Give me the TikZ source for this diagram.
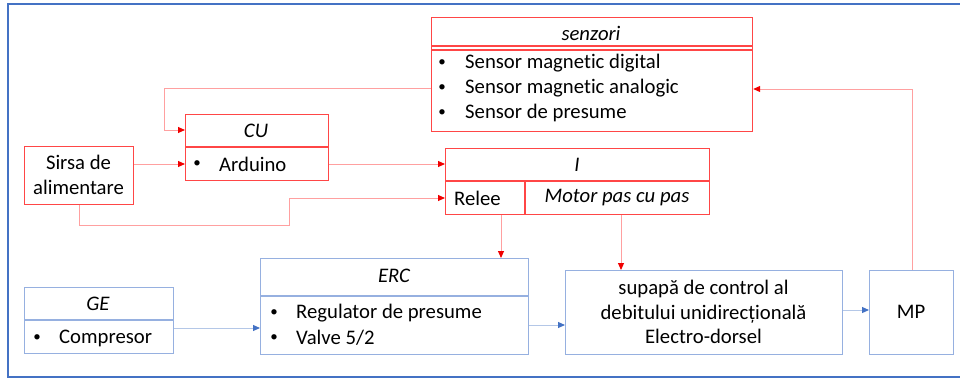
\documentclass[tikz,border=0pt]{standalone}
\usepackage{fontspec}
\setmainfont{Carlito}[Ligatures=NoCommon]
\usetikzlibrary{arrows.meta}
\definecolor{rbox}{RGB}{255,70,70}
\definecolor{rline}{RGB}{255,160,160}
\definecolor{rhead}{RGB}{240,0,0}
\definecolor{bbox}{RGB}{150,176,224}
\definecolor{bline}{RGB}{180,199,231}
\definecolor{bhead}{RGB}{68,114,196}
\definecolor{framec}{RGB}{68,114,196}
\begin{document}
\begin{tikzpicture}[x=1pt,y=-1pt,
  redbox/.style={draw=rbox, line width=1.2pt, inner sep=0pt, anchor=north west},
  bluebox/.style={draw=bbox, line width=1.2pt, inner sep=0pt, anchor=north west},
  rdiv/.style={draw=rbox, line width=1.2pt},
  bdiv/.style={draw=bbox, line width=1.2pt},
  txt/.style={inner sep=0pt, font=\fontsize{20.7}{24.5}\selectfont},
  ital/.style={txt, font=\fontsize{20.7}{24.5}\selectfont\itshape},
  bul/.style={inner sep=0pt, font=\fontsize{15}{18}\selectfont},
  rconn/.style={draw=rline, line width=1pt, -{Triangle[length=7pt,width=6pt,color=rhead]}},
  bconn/.style={draw=bline, line width=1pt, -{Triangle[length=7pt,width=6pt,color=bhead]}},
]
\useasboundingbox (0,0) rectangle (960,378);
\draw[framec, line width=2pt] (972,4) -- (8,4) -- (8,376.5) -- (972,376.5);

% senzori
\node[redbox, minimum width=321pt, minimum height=114pt] (senz) at (431,17) {};
\draw[rdiv] (431,46) -- (752,46);
\draw[rdiv] (431,50) -- (752,50);
\node[ital] (senzh) at (591,33) {senzori};
\node[bul] (sb1) at (442,63) {\textbullet};
\node[bul] (sb2) at (442,88) {\textbullet};
\node[bul] (sb3) at (442,113) {\textbullet};
\node[txt, anchor=west] (s1) at (465,63) {Sensor magnetic digital};
\node[txt, anchor=west] (s2) at (465,88) {Sensor magnetic analogic};
\node[txt, anchor=west] (s3) at (465,113) {Sensor de presume};

% CU
\node[redbox, minimum width=143pt, minimum height=66pt] (cu) at (185,114) {};
\draw[rdiv] (185,147) -- (328,147);
\node[ital] (cuh) at (256,131) {CU};
\node[bul] (cub) at (197,164) {\textbullet};
\node[txt, anchor=west] (cut) at (219,164) {Arduino};

% Sirsa
\node[redbox, minimum width=109pt, minimum height=58pt] (sirsa) at (24,146) {};
\node[txt, align=center] (sirsat) at (78.5,175) {Sirsa de\\alimentare};

% I
\node[redbox, minimum width=264pt, minimum height=66pt] (I) at (445,148) {};
\draw[rdiv] (445,181) -- (709,181);
\draw[rdiv] (525,181) -- (525,214);
\node[ital] (Ih) at (577,165) {I};
\node[txt, anchor=west] (relee) at (454,198) {Relee};
\node[ital] (motor) at (617,198) {Motor pas cu pas};

% ERC
\node[bluebox, minimum width=268pt, minimum height=96pt] (erc) at (260,258) {};
\draw[bdiv] (260,296) -- (528,296);
\node[ital] (erch) at (394,276) {ERC};
\node[bul] (eb1) at (274,313) {\textbullet};
\node[bul] (eb2) at (274,338) {\textbullet};
\node[txt, anchor=west] (e1) at (296,313) {Regulator de presume};
\node[txt, anchor=west] (e2) at (296,338) {Valve 5/2};

% GE
\node[bluebox, minimum width=149pt, minimum height=66pt] (ge) at (24,287) {};
\draw[bdiv] (24,320) -- (173,320);
\node[ital] (geh) at (98,304) {GE};
\node[bul] (gb) at (37,338) {\textbullet};
\node[txt, anchor=west] (gt) at (59,338) {Compresor};

% supapa
\node[bluebox, minimum width=277pt, minimum height=84pt] (sup) at (565,270) {};
\node[txt, align=center] (supt) at (703.5,312) {supapă de control al\\debitului unidirecțională\\Electro-dorsel};

% MP
\node[bluebox, minimum width=84pt, minimum height=84pt] (mp) at (869,270) {};
\node[txt] (mpt) at (911,312) {MP};

% connectors
\draw[rconn] (senz.west |- s2) -- (164,88) -- (164,130) -- (cu.west |- 0,130);
\draw[rconn] (sirsa.east |- 0,164) -- (cu.west |- 0,164);
\draw[rconn] (cu.east |- 0,164) -- (I.west |- 0,164);
\draw[rconn] (sirsa.south) |- (289,225) |- (I.west |- relee);
\draw[rconn] (I.south -| 501,0) -- (erc.north -| 501,0);
\draw[rconn] (I.south -| 621,0) -- (sup.north -| 621,0);
\draw[bconn] (ge.east |- 0,328) -- (erc.west |- 0,328);
\draw[bconn] (erc.east |- 0,325) -- (sup.west |- 0,325);
\draw[bconn] (sup.east |- 0,310) -- (mp.west |- 0,310);
\draw[rconn] (mp.north -| 912,0) -- (912,89) -- (senz.east |- 0,89);
\end{tikzpicture}
\end{document}
